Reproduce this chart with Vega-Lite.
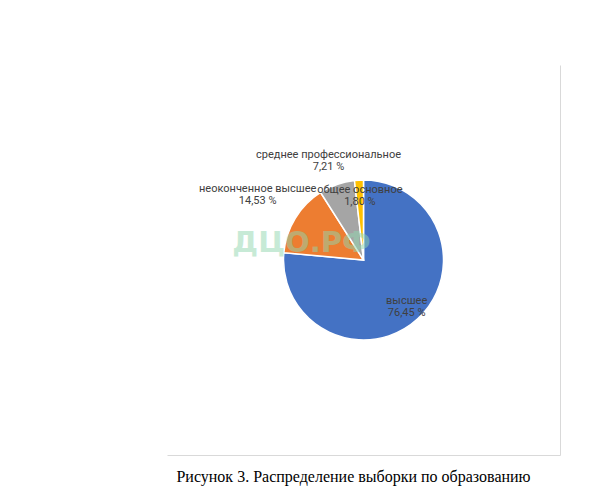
{
  "$schema": "https://vega.github.io/schema/vega-lite/v6.json",
  "width": 393,
  "height": 390,
  "autosize": {"type": "none"},
  "padding": {"left": 167, "top": 65, "right": 48, "bottom": 39},
  "background": "white",
  "title": {
    "text": "Рисунок 3. Распределение выборки по образованию",
    "orient": "bottom",
    "anchor": "middle",
    "font": "Liberation Serif",
    "fontSize": 16,
    "fontWeight": "normal",
    "color": "#000000",
    "offset": 14,
    "dx": -10
  },
  "config": {
    "view": {"stroke": null},
    "locale": {
      "number": {
        "decimal": ",",
        "thousands": " ",
        "grouping": [3],
        "currency": ["", ""],
        "percent": " %"
      }
    }
  },
  "datasets": {
    "edu": [
      {"category": "высшее", "share": 0.7645},
      {"category": "неоконченное высшее", "share": 0.1453},
      {"category": "среднее профессиональное", "share": 0.0721},
      {"category": "общее основное", "share": 0.018}
    ],
    "wm": [{"text": "ДЦО.РФ"}]
  },
  "data": {"name": "edu"},
  "layer": [
    {
      "mark": {"type": "point", "opacity": 0},
      "encoding": {
        "x": {
          "field": "share",
          "type": "quantitative",
          "axis": {"orient": "bottom", "title": null, "labels": false, "ticks": false, "grid": false, "domainColor": "#d9d9d9", "domainWidth": 1}
        },
        "y": {
          "field": "share",
          "type": "quantitative",
          "axis": {"orient": "right", "title": null, "labels": false, "ticks": false, "grid": false, "domainColor": "#d9d9d9", "domainWidth": 1}
        }
      }
    },
    {
      "mark": {"type": "arc", "outerRadius": 80, "stroke": "white", "strokeWidth": 1.5},
      "encoding": {
        "theta": {"field": "share", "type": "quantitative", "stack": true},
        "order": {"field": "share", "sort": "descending"},
        "color": {
          "field": "category",
          "type": "nominal",
          "scale": {
            "domain": ["высшее", "неоконченное высшее", "среднее профессиональное", "общее основное"],
            "range": ["#4472C4", "#ED7D31", "#A5A5A5", "#FFC000"]
          },
          "legend": null
        }
      }
    },
    {
      "mark": {"type": "text", "font": "Roboto", "fontSize": 11, "fill": "#404040", "align": "center", "baseline": "middle", "dy": -6},
      "encoding": {
        "theta": {"field": "share", "type": "quantitative", "stack": true},
        "order": {"field": "share", "sort": "descending"},
        "radius": {
          "field": "share",
          "type": "quantitative",
          "scale": {"type": "linear", "domain": [0.018, 0.0721, 0.1453, 0.7645], "range": [64, 105, 124, 64], "zero": false, "nice": false}
        },
        "text": {"field": "category", "type": "nominal"}
      }
    },
    {
      "mark": {"type": "text", "font": "Roboto", "fontSize": 11, "fill": "#404040", "align": "center", "baseline": "middle", "dy": 6},
      "encoding": {
        "theta": {"field": "share", "type": "quantitative", "stack": true},
        "order": {"field": "share", "sort": "descending"},
        "radius": {
          "field": "share",
          "type": "quantitative",
          "scale": {"type": "linear", "domain": [0.018, 0.0721, 0.1453, 0.7645], "range": [64, 105, 124, 64], "zero": false, "nice": false}
        },
        "text": {"field": "share", "type": "quantitative", "format": ".2%"}
      }
    },
    {
      "data": {"name": "wm"},
      "mark": {"type": "text", "font": "DejaVu Sans", "fontWeight": "bold", "fontSize": 29, "fill": "#91d7af", "opacity": 0.5, "align": "center", "baseline": "alphabetic", "dx": -62, "dy": -8},
      "encoding": {"text": {"field": "text", "type": "nominal"}}
    }
  ]
}
